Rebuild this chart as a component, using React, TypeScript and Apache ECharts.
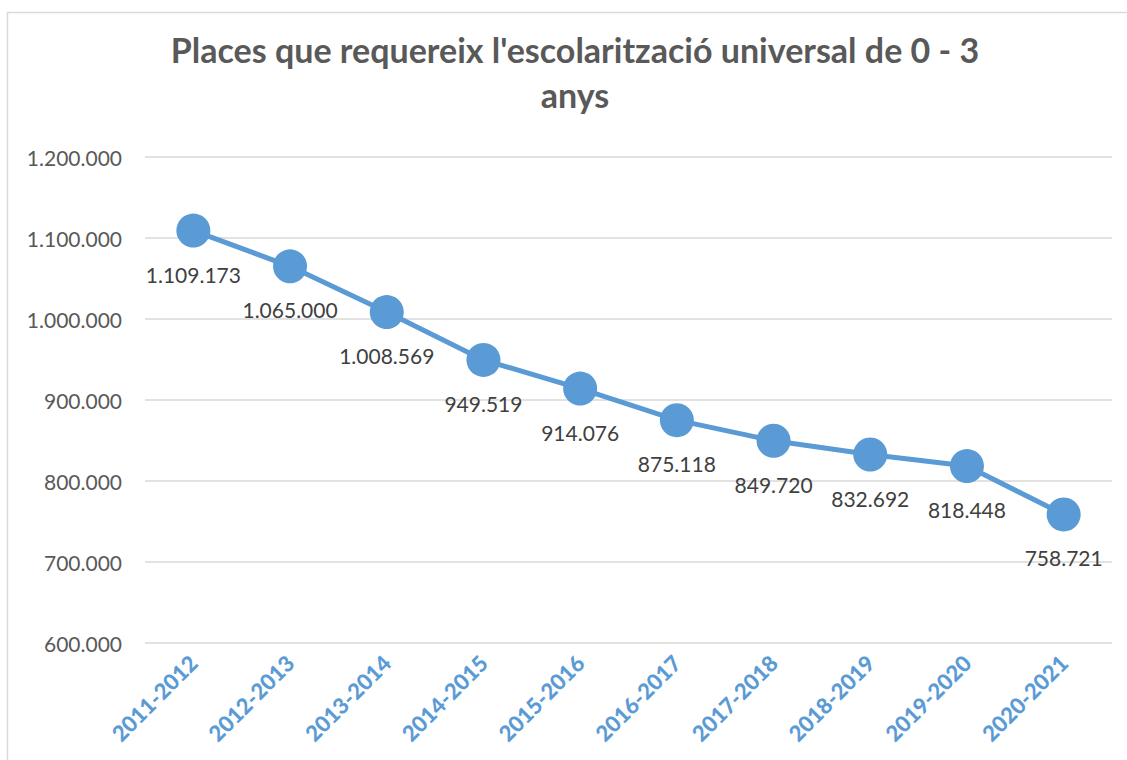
import React, { useEffect, useRef } from "react";
import * as echarts from "echarts";

const categories = ["2011-2012", "2012-2013", "2013-2014", "2014-2015", "2015-2016", "2016-2017", "2017-2018", "2018-2019", "2019-2020", "2020-2021"];
const values = [1109173, 1065000, 1008569, 949519, 914076, 875118, 849720, 832692, 818448, 758721];
const titleText = "Places que requereix l'escolarització universal de 0 - 3\nanys";

const fmt = (v: number) => String(Math.round(v)).replace(/\B(?=(\d{3})+(?!\d))/g, ".");

export default function App() {
  const ref = useRef<HTMLDivElement>(null);
  useEffect(() => {
    document.body.style.margin = "0";
    const chart = echarts.init(ref.current!, undefined, { renderer: "svg" });
    chart.setOption({
      animation: false,
      backgroundColor: "#ffffff",
      textStyle: { fontFamily: "Lato" },
      graphic: [
        {
          type: "rect",
          shape: { x: 7.5, y: 12.5, width: 1140, height: 780 },
          style: { fill: "none", stroke: "#d9d9d9", lineWidth: 1.5 },
          silent: true,
        },
        {
          type: "text",
          x: 575,
          y: 27,
          style: {
            text: titleText,
            fontFamily: "Lato",
            fontSize: 34,
            fontWeight: "bold",
            fill: "#595959",
            align: "center",
            verticalAlign: "top",
            lineHeight: 45,
          },
        },
      ],
      grid: { left: 145, right: 15, top: 157, bottom: 117 },
      xAxis: {
        type: "category",
        data: categories,
        boundaryGap: true,
        axisLine: { show: false },
        axisTick: { show: false },
        axisLabel: {
          rotate: 45,
          color: "#5b9bd5",
          fontWeight: 900,
          fontSize: 22,
          fontFamily: "Lato",
          margin: 16,
        },
      },
      yAxis: {
        type: "value",
        min: 600000,
        max: 1200000,
        interval: 100000,
        axisLine: { show: false },
        axisTick: { show: false },
        splitLine: { lineStyle: { color: "#d9d9d9", width: 1.5 } },
        axisLabel: {
          formatter: (v: number) => fmt(v),
          color: "#595959",
          fontSize: 21,
          fontFamily: "Lato",
          margin: 23,
        },
      },
      series: [
        {
          type: "line",
          data: values,
          symbol: "circle",
          symbolSize: 34,
          lineStyle: { color: "#5b9bd5", width: 5 },
          itemStyle: { color: "#5b9bd5" },
          label: {
            show: true,
            position: "bottom",
            distance: 16,
            formatter: (p: any) => fmt(p.value),
            color: "#404040",
            fontSize: 21,
            fontFamily: "Lato",
          },
        },
      ],
    });
    return () => chart.dispose();
  }, []);
  return <div ref={ref} style={{ width: 1127, height: 760 }} />;
}
